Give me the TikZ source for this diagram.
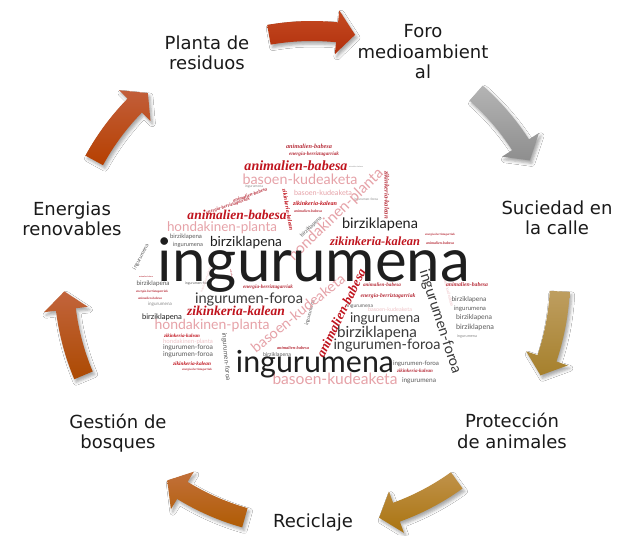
\documentclass[tikz,border=0pt]{standalone}
\usepackage{fontspec}
\usepackage{graphicx}
\setmainfont{DejaVu Sans}
\newfontfamily\wsans{Lato}
\newfontfamily\wscr{Liberation Serif}
\usetikzlibrary{shadows.blur}
\definecolor{labcol}{HTML}{1A1A1A}
\definecolor{wblack}{HTML}{1E1E1E}
\definecolor{wdark}{HTML}{3A3A3A}
\definecolor{wgray}{HTML}{5A5A5A}
\definecolor{wtiny}{HTML}{8A8A8A}
\definecolor{wred}{HTML}{C0141E}
\definecolor{wmred}{HTML}{B8303C}
\definecolor{wpink}{HTML}{E6A2A8}
\definecolor{wlpink}{HTML}{F0C6CA}
\definecolor{arA1}{HTML}{C44A22}\definecolor{arA2}{HTML}{B2300C}
\definecolor{arB1}{HTML}{B4B4B4}\definecolor{arB2}{HTML}{8E8E8E}
\definecolor{arC1}{HTML}{BE9E60}\definecolor{arC2}{HTML}{A6802C}
\definecolor{arD1}{HTML}{C0924A}\definecolor{arD2}{HTML}{AA7410}
\definecolor{arE1}{HTML}{C2703A}\definecolor{arE2}{HTML}{B05C04}
\definecolor{arF1}{HTML}{C2643C}\definecolor{arF2}{HTML}{AC4A02}
\definecolor{arG1}{HTML}{C25E3A}\definecolor{arG2}{HTML}{B64000}
\tikzset{
  lab/.style={font=\fontsize{18}{20.5}\selectfont, align=center, text=labcol, inner sep=0pt},
  wc/.style={inner sep=0pt, outer sep=0pt},
  wk/.style={wc, text=wblack, font=\wsans},
  wd/.style={wc, text=wdark, font=\wsans},
  wg/.style={wc, text=wgray, font=\wsans},
  wn/.style={wc, text=wtiny, font=\wsans},
  wp/.style={wc, text=wpink, font=\wsans},
  wl/.style={wc, text=wlpink, font=\wsans},
  wr/.style={wc, text=wred, font=\wscr\bfseries\itshape},
  wm/.style={wc, text=wmred, font=\wscr\bfseries\itshape},
  cyc/.style={blur shadow={shadow xshift=2pt, shadow yshift=-3pt, shadow blur radius=3pt, shadow opacity=35}},
}
\newcommand\cw[7]{\node[#6, rotate=#4] (#1) at (#2,#3) {\resizebox{#5pt}{!}{#7}};}
\begin{document}
\begin{tikzpicture}[x=1pt,y=-1pt]
\fill[white] (0,0) rectangle (620,535);
\useasboundingbox (0,0) rectangle (620,535);
\coordinate (C) at (312,279);
% cycle arrows
\foreach \angC/\ca/\cb in {90/arA1/arA2, 38.57/arB1/arB2, -12.86/arC1/arC2, -64.29/arD1/arD2, -115.71/arE1/arE2, -167.14/arF1/arF2, 141.43/arG1/arG2}{
  \pgfmathsetmacro\angT{-(\angC+10)}
  \pgfmathsetmacro\angP{-(\angC-10)}
  \pgfmathsetmacro\angB{\angP-4.2}
  \shade[cyc, top color=\ca, bottom color=\cb]
    plot[variable=\a, domain=\angT:\angB, samples=16] ([shift={(C)}]\a:258)
    -- ([shift={(C)}]\angB:270) -- ([shift={(C)}]\angP:248) -- ([shift={(C)}]\angB:226)
    -- plot[variable=\a, domain=\angB:\angT, samples=16] ([shift={(C)}]\a:238) -- cycle;
}
% labels
\node[lab] (planta) at (207,53) {Planta de\\residuos};
\node[lab] (foro) at (423,52) {Foro\\medioambient\\al};
\node[lab] (suciedad) at (557,218) {Suciedad en\\la calle};
\node[lab] (proteccion) at (512,431) {Protección\\de animales};
\node[lab] (reciclaje) at (313,523) {Reciclaje};
\node[lab] (gestion) at (118,433) {Gestión de\\bosques};
\node[lab] (energias) at (72,219) {Energias\\renovables};
% word cloud: tiny and small words
\cw{w62}{146}{277}{0}{14}{wm}{animalien-babesa}
\cw{w63}{152}{292}{0}{32}{wm}{energia-berriztagarriak}
\cw{w64}{150}{298}{0}{24}{wm}{animalien-babesa}
\cw{w65}{160}{304}{0}{24}{wn}{ingurumena}
\cw{w66}{198}{284}{0}{26}{wg}{ingurumen-foroa}
\cw{w58}{206}{280}{70}{26}{wl}{hondakinen-planta}
\cw{w57}{141}{257}{62}{28}{wg}{ingurumena}
\cw{w27}{153}{284}{0}{33}{wg}{birziklapena}
\cw{w26}{162}{317}{0}{40}{wk}{birziklapena}
\cw{w31}{182}{336}{0}{36}{wr}{zikinkeria-kalean}
\cw{w28}{188}{342}{0}{50}{wl}{hondakinen-planta}
\cw{w29}{188}{348}{0}{50}{wg}{ingurumen-foroa}
\cw{w30}{188}{355}{0}{50}{wg}{ingurumen-foroa}
\cw{w32}{192}{364}{0}{38}{wr}{zikinkeria-kalean}
\cw{w33}{197}{370}{0}{30}{wm}{energia-berriztagarriak}
\cw{w59}{226}{357}{-85}{48}{wg}{ingurumen-foroa}
\cw{w71}{232}{276}{-80}{14}{wm}{animalien-babesa}
\cw{w34}{268}{287}{0}{50}{wm}{energia-berriztagarriak}
\cw{w35}{277}{355}{0}{28}{wg}{birziklapena}
\cw{w36}{293}{348}{0}{32}{wm}{animalien-babesa}
\cw{w24}{186}{237}{0}{32}{wg}{birziklapena}
\cw{w25}{188}{245}{0}{30}{wg}{ingurumena}
\cw{w53}{228}{206}{18}{46}{wm}{energia-berriztagarriak}
\cw{w54}{250}{195}{20}{36}{wm}{animalien-babesa}
\cw{w73}{254}{187}{0}{18}{wn}{ingurumena}
\cw{w55}{288}{210}{-80}{42}{wr}{zikinkeria-kalean}
\cw{w49}{323}{193}{0}{58}{wp}{basoen-kudeaketa}
\cw{w50}{315}{203}{0}{44}{wr}{zikinkeria-kalean}
\cw{w51}{308}{211}{0}{28}{wm}{animalien-babesa}
\cw{w56}{311}{227}{45}{28}{wg}{birziklapena}
\cw{w70}{366}{200}{0}{24}{wn}{ingurumen-foroa}
\cw{w52}{387}{195}{-90}{48}{wm}{zikinkeria-kalean}
\cw{w67}{356}{167}{0}{14}{wn}{animalien-babesa}
\cw{w18}{309}{146}{0}{46}{wm}{animalien-babesa}
\cw{w19}{314}{154}{0}{50}{wm}{energia-berriztagarriak}
\cw{w68}{440}{235}{0}{30}{wm}{energia-berriztagarriak}
\cw{w69}{440}{243}{0}{28}{wm}{animalien-babesa}
\cw{w45}{382}{285}{0}{38}{wm}{animalien-babesa}
\cw{w46}{388}{296}{0}{55}{wm}{energia-berriztagarriak}
\cw{w47}{360}{306}{0}{26}{wg}{ingurumena}
\cw{w48}{390}{309}{0}{44}{wl}{basoen-kudeaketa}
\cw{w61}{310}{313}{75}{26}{wg}{ingurumena}
\cw{w60}{448}{290}{-75}{34}{wl}{basoen-kudeaketa}
\cw{w37}{467}{285}{0}{42}{wm}{animalien-babesa}
\cw{w38}{469}{300}{0}{35}{wg}{birziklapena}
\cw{w39}{470}{309}{0}{32}{wg}{ingurumena}
\cw{w40}{474}{318}{0}{36}{wg}{birziklapena}
\cw{w41}{475}{327}{0}{38}{wg}{birziklapena}
\cw{w42}{467}{336}{0}{20}{wn}{ingurumena}
\cw{w43}{416}{364}{0}{46}{wg}{ingurumen-foroa}
\cw{w44}{415}{371}{0}{36}{wm}{zikinkeria-kalean}
\cw{w23}{419}{381}{0}{34}{wg}{ingurumena}
% word cloud: medium and large words
\cw{w22}{335}{379}{0}{125}{wp}{basoen-kudeaketa}
\cw{w21}{222}{228}{0}{110}{wp}{hondakinen-planta}
\cw{w20}{237}{215}{0}{99}{wr}{animalien-babesa}
\cw{w17}{300}{179}{0}{115}{wp}{basoen-kudeaketa}
\cw{w16}{296}{166}{0}{103}{wr}{animalien-babesa}
\cw{w15}{336}{215}{44}{125}{wp}{hondakinen-planta}
\cw{w14}{298}{313}{39}{116}{wp}{basoen-kudeaketa}
\cw{w13}{341}{313}{64}{97}{wr}{animalien-babesa}
\cw{w12}{440}{322}{-72}{108}{wd}{ingurumen-foroa}
\cw{w6}{212}{326}{0}{115}{wp}{hondakinen-planta}
\cw{w5}{236}{311}{0}{98}{wr}{zikinkeria-kalean}
\cw{w4}{249}{299}{0}{108}{wd}{ingurumen-foroa}
\cw{w3}{246}{243}{0}{72}{wk}{birziklapena}
\cw{w7}{375}{241}{0}{90}{wr}{zikinkeria-kalean}
\cw{w8}{380}{224}{0}{76}{wk}{birziklapena}
\cw{w9}{385}{319}{0}{70}{wd}{ingurumena}
\cw{w10}{377}{333}{0}{80}{wd}{birziklapena}
\cw{w11}{387}{346}{0}{107}{wd}{ingurumen-foroa}
\cw{w2}{315}{364}{0}{158}{wk}{ingurumena}
\cw{w1}{314}{265}{0}{312}{wk}{ingurumena}
\end{tikzpicture}
\end{document}
